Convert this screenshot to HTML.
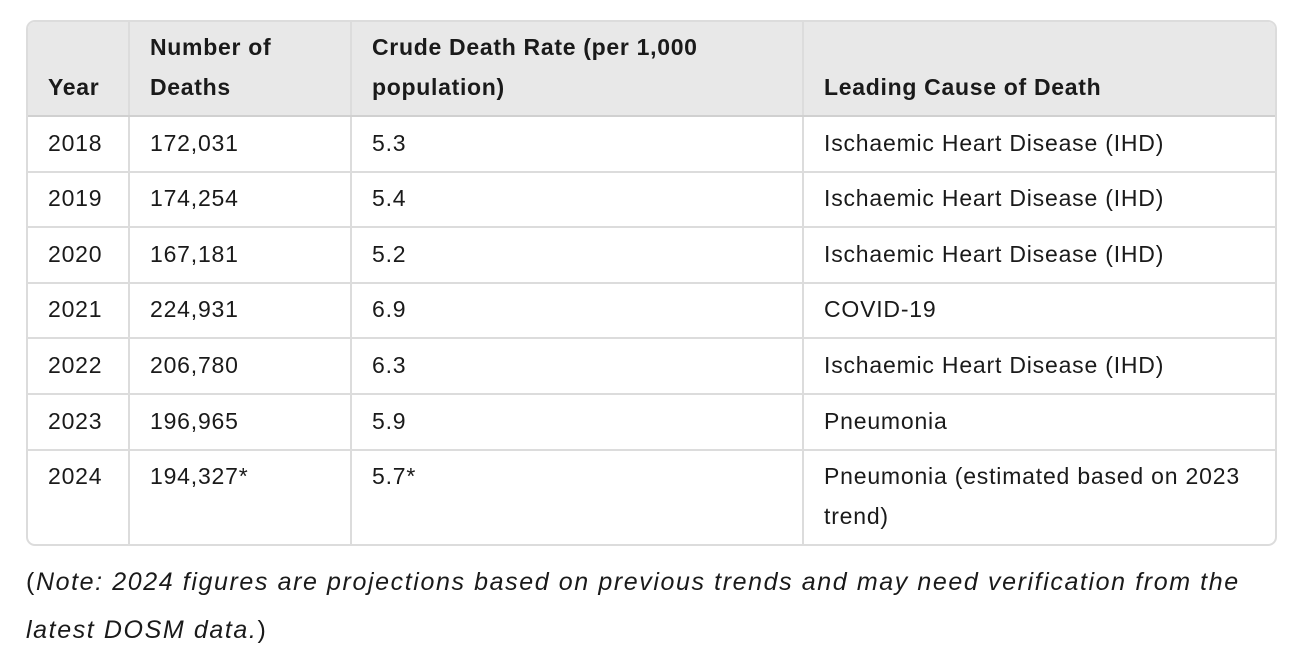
<!DOCTYPE html>
<html><head><style>
body{margin:0;width:1308px;height:660px;background:#fff;font-family:"Liberation Sans",sans-serif;color:#1a1a1a;position:relative;overflow:hidden}
.tbl{position:absolute;left:26px;top:20px;width:1247px;height:522px;border:2px solid #dcdcdc;border-radius:9px;overflow:hidden}
.hdr{position:absolute;left:0;top:0;width:100%;height:94px;background:#e8e8e8}
.v{position:absolute;top:0;bottom:0;width:2px;background:#dcdcdc}
.h{position:absolute;left:0;right:0;height:2px;background:#dcdcdc}
.t{position:absolute;font-size:23px;letter-spacing:0.8px;line-height:40px;white-space:nowrap}
.b{font-weight:bold;letter-spacing:0.7px}
.note{position:absolute;left:26px;top:558px;font-size:25px;letter-spacing:1.6px;line-height:48px;font-style:italic;width:1280px;white-space:nowrap}
</style></head><body>
<div class="tbl">
<div class="hdr"></div>
<div class="v" style="left:100px"></div>
<div class="v" style="left:322px"></div>
<div class="v" style="left:774px"></div>
<div class="h" style="top:93px;background:#d0d0d0"></div>
<div class="h" style="top:149px"></div>
<div class="h" style="top:204px"></div>
<div class="h" style="top:260px"></div>
<div class="h" style="top:315px"></div>
<div class="h" style="top:371px"></div>
<div class="h" style="top:427px"></div>
</div>
<div class="t b" style="left:48px;top:67px">Year</div>
<div class="t b" style="left:150px;top:27px">Number of<br>Deaths</div>
<div class="t b" style="left:372px;top:27px">Crude Death Rate (per 1,000<br>population)</div>
<div class="t b" style="left:824px;top:67px">Leading Cause of Death</div>

<div class="t" style="left:48px;top:123px">2018</div><div class="t" style="left:150px;top:123px">172,031</div><div class="t" style="left:372px;top:123px">5.3</div><div class="t" style="left:824px;top:123px">Ischaemic Heart Disease (IHD)</div>
<div class="t" style="left:48px;top:178px">2019</div><div class="t" style="left:150px;top:178px">174,254</div><div class="t" style="left:372px;top:178px">5.4</div><div class="t" style="left:824px;top:178px">Ischaemic Heart Disease (IHD)</div>
<div class="t" style="left:48px;top:234px">2020</div><div class="t" style="left:150px;top:234px">167,181</div><div class="t" style="left:372px;top:234px">5.2</div><div class="t" style="left:824px;top:234px">Ischaemic Heart Disease (IHD)</div>
<div class="t" style="left:48px;top:289px">2021</div><div class="t" style="left:150px;top:289px">224,931</div><div class="t" style="left:372px;top:289px">6.9</div><div class="t" style="left:824px;top:289px">COVID-19</div>
<div class="t" style="left:48px;top:345px">2022</div><div class="t" style="left:150px;top:345px">206,780</div><div class="t" style="left:372px;top:345px">6.3</div><div class="t" style="left:824px;top:345px">Ischaemic Heart Disease (IHD)</div>
<div class="t" style="left:48px;top:401px">2023</div><div class="t" style="left:150px;top:401px">196,965</div><div class="t" style="left:372px;top:401px">5.9</div><div class="t" style="left:824px;top:401px">Pneumonia</div>
<div class="t" style="left:48px;top:456px">2024</div><div class="t" style="left:150px;top:456px">194,327*</div><div class="t" style="left:372px;top:456px">5.7*</div><div class="t" style="left:824px;top:456px">Pneumonia (estimated based on 2023<br>trend)</div>

<div class="note"><span style="font-style:normal">(</span>Note: 2024 figures are projections based on previous trends and may need verification from the<br>latest DOSM data.<span style="font-style:normal">)</span></div>
</body></html>
